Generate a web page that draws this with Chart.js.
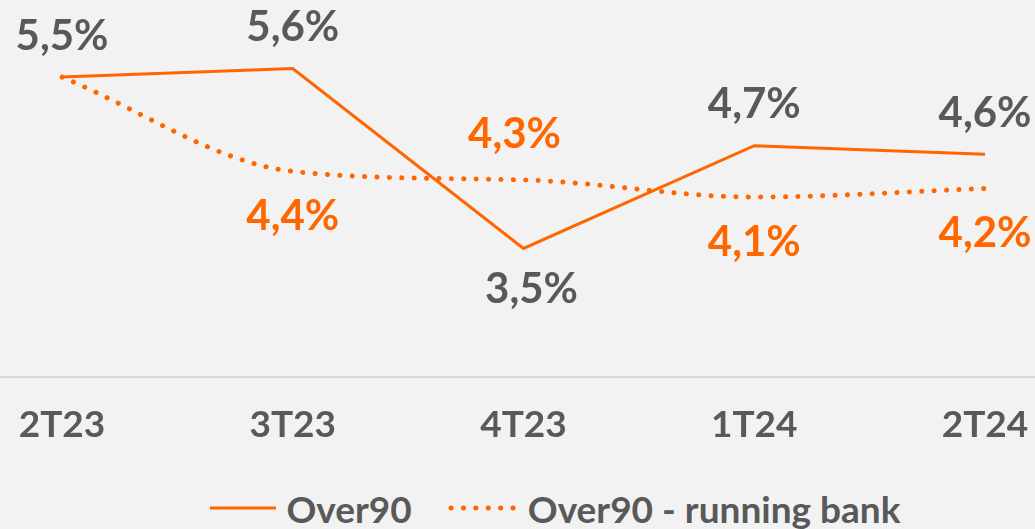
<!DOCTYPE html>
<html lang="pt">
<head>
    <meta charset="UTF-8">
    <title>Over90</title>
    <script src="https://cdn.jsdelivr.net/npm/chart.js"></script>
    <style>
        body {
            margin: 0;
            background: #f2f2f2;
            font-family: Lato, sans-serif;
        }

        .chart-box {
            position: relative;
            width: 1035px;
            height: 460px;
        }

        .legend {
            display: flex;
            justify-content: center;
            align-items: center;
            list-style: none;
            margin: 0;
            padding: 27px 0 0 72px;
            height: 42px;
            font-size: 37px;
            font-weight: bold;
            color: #595959;
        }

        .legend-item {
            display: flex;
            align-items: center;
            margin: 0 18px;
        }

        .legend-item svg {
            margin-right: 8px;
        }
    </style>
</head>
<body>

<div class="chart-box">
    <canvas id="myChart"></canvas>
</div>
<ul class="legend" id="legend"></ul>

<script>
    const categories = ['2T23', '3T23', '4T23', '1T24', '2T24'];
    const over90 = [5.5, 5.6, 3.5, 4.7, 4.6];
    const over90Running = [5.5, 4.4, 4.3, 4.1, 4.2];
    // label placement: -1 above the point, 1 below
    const over90Side = [-1, -1, 1, -1, -1];
    const runningSide = [0, 1, -1, 1, 1];

    const orange = '#ff6600';
    const gray = '#595959';
    // small sideways nudge for the crowded 4T23 labels
    const labelNudge = [[0, 0, 8, 0, 0], [0, 0, -9, 0, 0]];

    // draws the value labels next to the points
    const valueLabels = {
        id: 'valueLabels',
        afterDatasetsDraw(chart) {
            const ctx = chart.ctx;
            ctx.save();
            ctx.font = 'bold 42px Lato';
            ctx.textAlign = 'center';
            ctx.textBaseline = 'middle';
            chart.data.datasets.forEach((ds, i) => {
                const meta = chart.getDatasetMeta(i);
                meta.data.forEach((pt, j) => {
                    const side = ds.labelSide[j];
                    if (side === 0) return;
                    ctx.fillStyle = ds.labelColor;
                    const off = i === 0 ? 41 : 45;
                    ctx.fillText(ds.data[j].toFixed(1).replace('.', ',') + '%', pt.x + labelNudge[i][j], pt.y + side * off);
                });
            });
            ctx.restore();
        }
    };

    // gray base line running across the whole width
    const baseLine = {
        id: 'baseLine',
        beforeDatasetsDraw(chart) {
            const ctx = chart.ctx;
            const y = chart.scales.x.top;
            ctx.save();
            ctx.strokeStyle = '#d9d9d9';
            ctx.lineWidth = 2;
            ctx.beginPath();
            ctx.moveTo(0, y);
            ctx.lineTo(chart.width, y);
            ctx.stroke();
            ctx.restore();
        }
    };

    const data = {
        labels: categories,
        datasets: [{
            label: 'Over90',
            data: over90,
            borderColor: orange,
            backgroundColor: orange,
            borderWidth: 3,
            pointRadius: 0,
            tension: 0,
            labelSide: over90Side,
            labelColor: gray
        }, {
            label: 'Over90 - running bank',
            data: over90Running,
            borderColor: orange,
            backgroundColor: orange,
            borderWidth: 5,
            borderDash: [0.1, 12.3],
            borderCapStyle: 'round',
            pointRadius: 0,
            cubicInterpolationMode: 'monotone',
            labelSide: runningSide,
            labelColor: orange
        }]
    };

    new Chart(document.getElementById('myChart'), {
        type: 'line',
        data: data,
        options: {
            responsive: true,
            maintainAspectRatio: false,
            animation: false,
            layout: { padding: { left: 62, right: 50, top: 0, bottom: 0 } },
            plugins: {
                legend: { display: false },
                tooltip: { enabled: false }
            },
            scales: {
                x: {
                    offset: false,
                    grid: { display: false, drawTicks: false },
                    border: { display: false },
                    ticks: {
                        color: gray,
                        font: { family: 'Lato', size: 37, weight: 'bold' },
                        padding: 26,
                        maxRotation: 0,
                        autoSkip: false
                    },
                    afterFit(scale) {
                        scale.height = 83;
                        scale.paddingLeft = 0;
                        scale.paddingRight = 0;
                    }
                },
                y: {
                    display: false,
                    min: 2,
                    max: 6.4
                }
            }
        },
        plugins: [baseLine, valueLabels]
    });

    // html legend with line samples
    function createLegend() {
        const legend = document.getElementById('legend');
        data.datasets.forEach(ds => {
            const li = document.createElement('li');
            li.classList.add('legend-item');
            const dash = ds.borderDash ? `stroke-dasharray="${ds.borderDash.join(' ')}"` : '';
            const cap = ds.borderCapStyle || 'butt';
            li.innerHTML = `<svg width="72" height="10"><line x1="3" y1="5" x2="69" y2="5" stroke="${ds.borderColor}" stroke-width="${ds.borderWidth}" stroke-linecap="${cap}" ${dash}/></svg><span>${ds.label}</span>`;
            legend.appendChild(li);
        });
    }

    createLegend();
</script>

</body>
</html>
